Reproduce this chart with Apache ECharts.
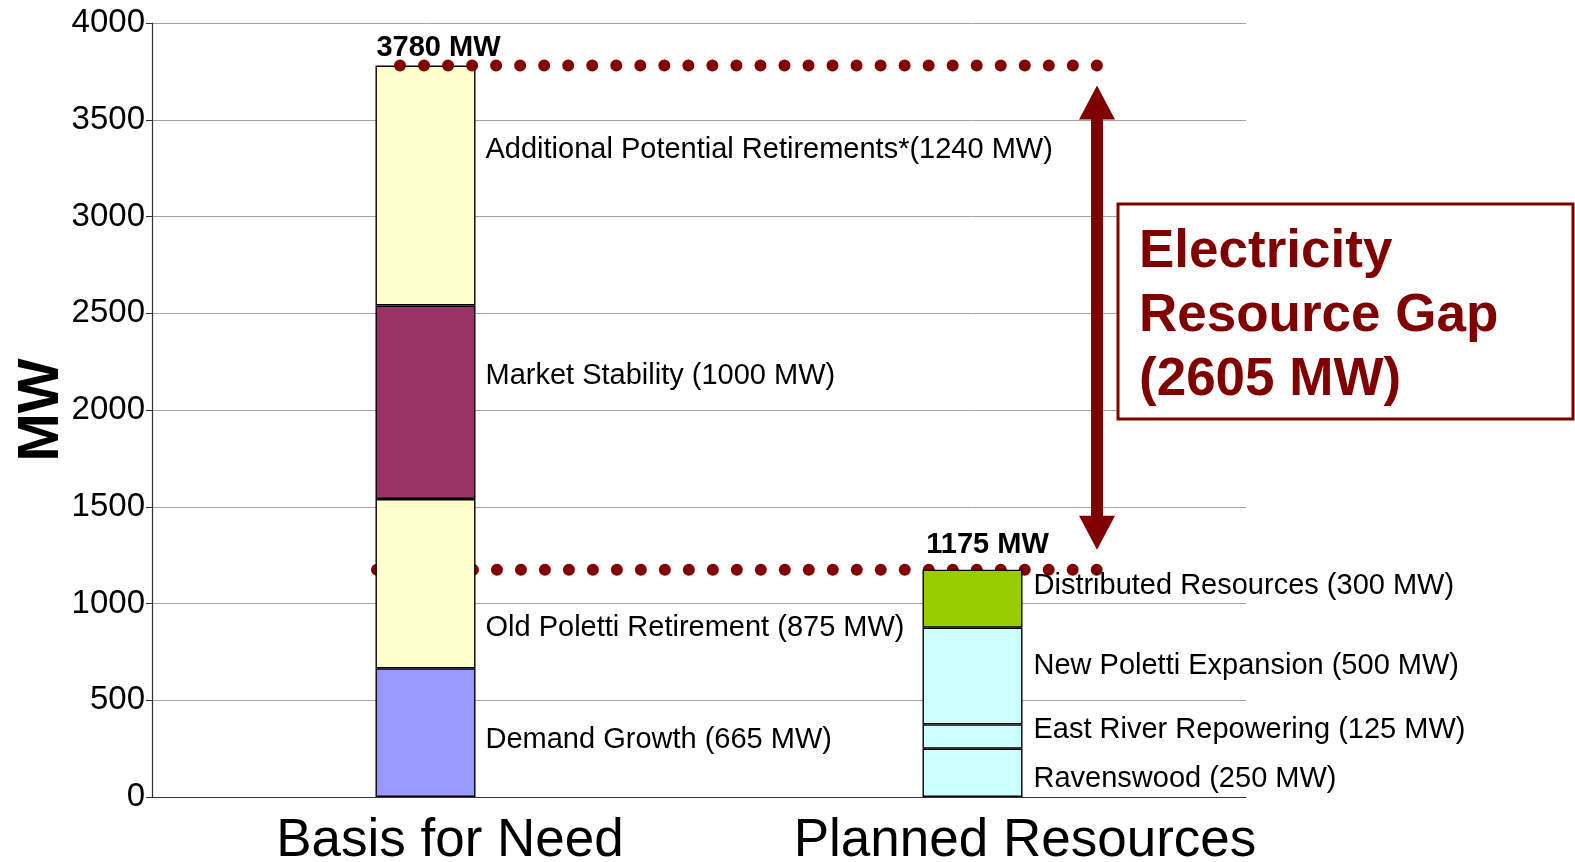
<!DOCTYPE html>
<html><head><meta charset="utf-8">
<script src="https://cdn.jsdelivr.net/npm/echarts@6/dist/echarts.min.js"></script>
<style>html,body{margin:0;padding:0;background:#fff}#c{width:1575px;height:862px}</style>
</head><body><div id="c"></div>
<script>
// ---- data ----
const categories = ['Basis for Need', 'Planned Resources'];
const basisNames = ['Demand Growth', 'Old Poletti Retirement', 'Market Stability', 'Additional Potential Retirements*'];
const basisValues = [665, 875, 1000, 1240];
const plannedNames = ['Ravenswood', 'East River Repowering', 'New Poletti Expansion', 'Distributed Resources'];
const plannedValues = [250, 125, 500, 300];
const yMin = 0, yMax = 4000, yStep = 500;
const gapTitle = ['Electricity', 'Resource Gap'];
const unit = 'MW';

// ---- styles ----
const FONT = "'Liberation Sans', Arial, sans-serif";
const DARK_RED = '#800000';
const basisColors = ['#9999FF', '#FFFFCC', '#993366', '#FFFFCC'];
const plannedColors = ['#CCFFFF', '#CCFFFF', '#CCFFFF', '#99CC00'];
const basisLabelDy = [7, 44, -26, -36];
const plannedLabelDy = [6, -7, -10, -13];

const totals = [basisValues.reduce((a, b) => a + b, 0), plannedValues.reduce((a, b) => a + b, 0)];
const gapValue = totals[0] - totals[1];

function segLabel(name, v) {
  return name + (name.endsWith('*') ? '' : ' ') + '(' + v + ' ' + unit + ')';
}

const series = [];
basisNames.forEach((n, i) => {
  series.push({
    name: n, type: 'bar', stack: 'total', barWidth: 100, z: 3,
    data: [basisValues[i], '-'],
    itemStyle: { color: basisColors[i], borderColor: '#000', borderWidth: 1.4 },
    label: {
      show: true, position: 'right', distance: 10, offset: [0, basisLabelDy[i]],
      fontFamily: FONT, fontSize: 29, color: '#000',
      formatter: p => segLabel(n, p.value)
    }
  });
});
plannedNames.forEach((n, i) => {
  series.push({
    name: n, type: 'bar', stack: 'total', barWidth: 100, z: 3,
    data: ['-', plannedValues[i]],
    itemStyle: { color: plannedColors[i], borderColor: '#000', borderWidth: 1.4 },
    label: {
      show: true, position: 'right', distance: 11, offset: [0, plannedLabelDy[i]],
      fontFamily: FONT, fontSize: 29, color: '#000',
      formatter: p => segLabel(n, p.value)
    }
  });
});
const totalOffsets = [[13, 0], [15, 0]];
const totalDist = [3, 10];
series.push({
  name: 'Total', type: 'bar', stack: 'total', barWidth: 100, z: 4,
  data: totals.map((t, i) => ({ value: 0, label: { offset: totalOffsets[i], distance: totalDist[i] } })),
  itemStyle: { color: 'rgba(0,0,0,0)', borderWidth: 0 },
  label: {
    show: true, position: 'top', fontFamily: FONT, fontSize: 29, fontWeight: 'bold', color: '#000',
    formatter: p => totals[p.dataIndex] + ' ' + unit
  }
});

const chart = echarts.init(document.getElementById('c'), null, { renderer: 'canvas' });
chart.setOption({
  animation: false,
  backgroundColor: '#fff',
  grid: { left: 152, right: 329, top: 23, bottom: 65, containLabel: false, outerBoundsMode: 'none' },
  xAxis: {
    type: 'category', data: categories, boundaryGap: true,
    axisTick: { show: false },
    axisLine: { lineStyle: { color: '#333', width: 1.2 } },
    axisLabel: {
      interval: 0, hideOverlap: false,
      margin: 16, color: '#000', fontFamily: FONT, fontSize: 53, lineHeight: 56,
      formatter: (v, i) => i === 0 ? '{a|' + v + '}' : '{b|' + v + '}',
      rich: {
        a: { fontFamily: FONT, fontSize: 53, lineHeight: 56, color: '#000', padding: [0, 0, 0, 49] },
        b: { fontFamily: FONT, fontSize: 53, lineHeight: 56, color: '#000', padding: [0, 0, 0, 105] }
      }
    },
    splitLine: { show: false }
  },
  yAxis: {
    type: 'value', min: yMin, max: yMax, interval: yStep,
    name: unit, nameLocation: 'middle', nameRotate: 90, nameGap: 81, nameMoveOverlap: false,
    nameTextStyle: { fontFamily: FONT, fontSize: 58, fontWeight: 'bold', color: '#000' },
    axisLine: { show: true, lineStyle: { color: '#333', width: 1.2 } },
    axisTick: { show: true, length: 6, lineStyle: { color: '#333' } },
    axisLabel: { margin: 7, color: '#000', fontFamily: FONT, fontSize: 33, formatter: v => String(v) },
    splitLine: { show: true, lineStyle: { color: '#a0a0a0', width: 1 } }
  },
  series: series
});

// ---- annotations ----
const yTop = chart.convertToPixel({ yAxisIndex: 0 }, totals[0]);
const yBot = chart.convertToPixel({ yAxisIndex: 0 }, totals[1]);
const ax = 1097;
const headH = 34, headW = 36, shaftW = 12;
const tipTop = yTop + 20, tipBot = yBot - 20;

chart.setOption({
  graphic: [
    { type: 'line', z: 1, shape: { x1: 377, y1: yBot, x2: 1097, y2: yBot },
      style: { stroke: DARK_RED, lineWidth: 12, lineCap: 'round', lineDash: [0, 23.99] } },
    { type: 'line', z: 10, shape: { x1: 400, y1: yTop, x2: 1097, y2: yTop },
      style: { stroke: DARK_RED, lineWidth: 12, lineCap: 'round', lineDash: [0, 24.03] } },
    { type: 'rect', z: 10, shape: { x: ax - shaftW / 2, y: tipTop + headH - 2, width: shaftW, height: (tipBot - headH) - (tipTop + headH) + 4 },
      style: { fill: DARK_RED } },
    { type: 'polygon', z: 10, shape: { points: [[ax, tipTop], [ax - headW / 2, tipTop + headH], [ax + headW / 2, tipTop + headH]] },
      style: { fill: DARK_RED } },
    { type: 'polygon', z: 10, shape: { points: [[ax, tipBot], [ax - headW / 2, tipBot - headH], [ax + headW / 2, tipBot - headH]] },
      style: { fill: DARK_RED } },
    { type: 'rect', z: 10, shape: { x: 1118, y: 204, width: 455, height: 215 },
      style: { fill: '#fff', stroke: DARK_RED, lineWidth: 3 } },
    { type: 'text', z: 11, x: 1139, y: 220,
      style: { text: gapTitle.concat(['(' + gapValue + ' ' + unit + ')']).join('\n'),
        font: 'bold 53px ' + FONT, lineHeight: 64, fill: DARK_RED } }
  ]
});
</script>
</body></html>
